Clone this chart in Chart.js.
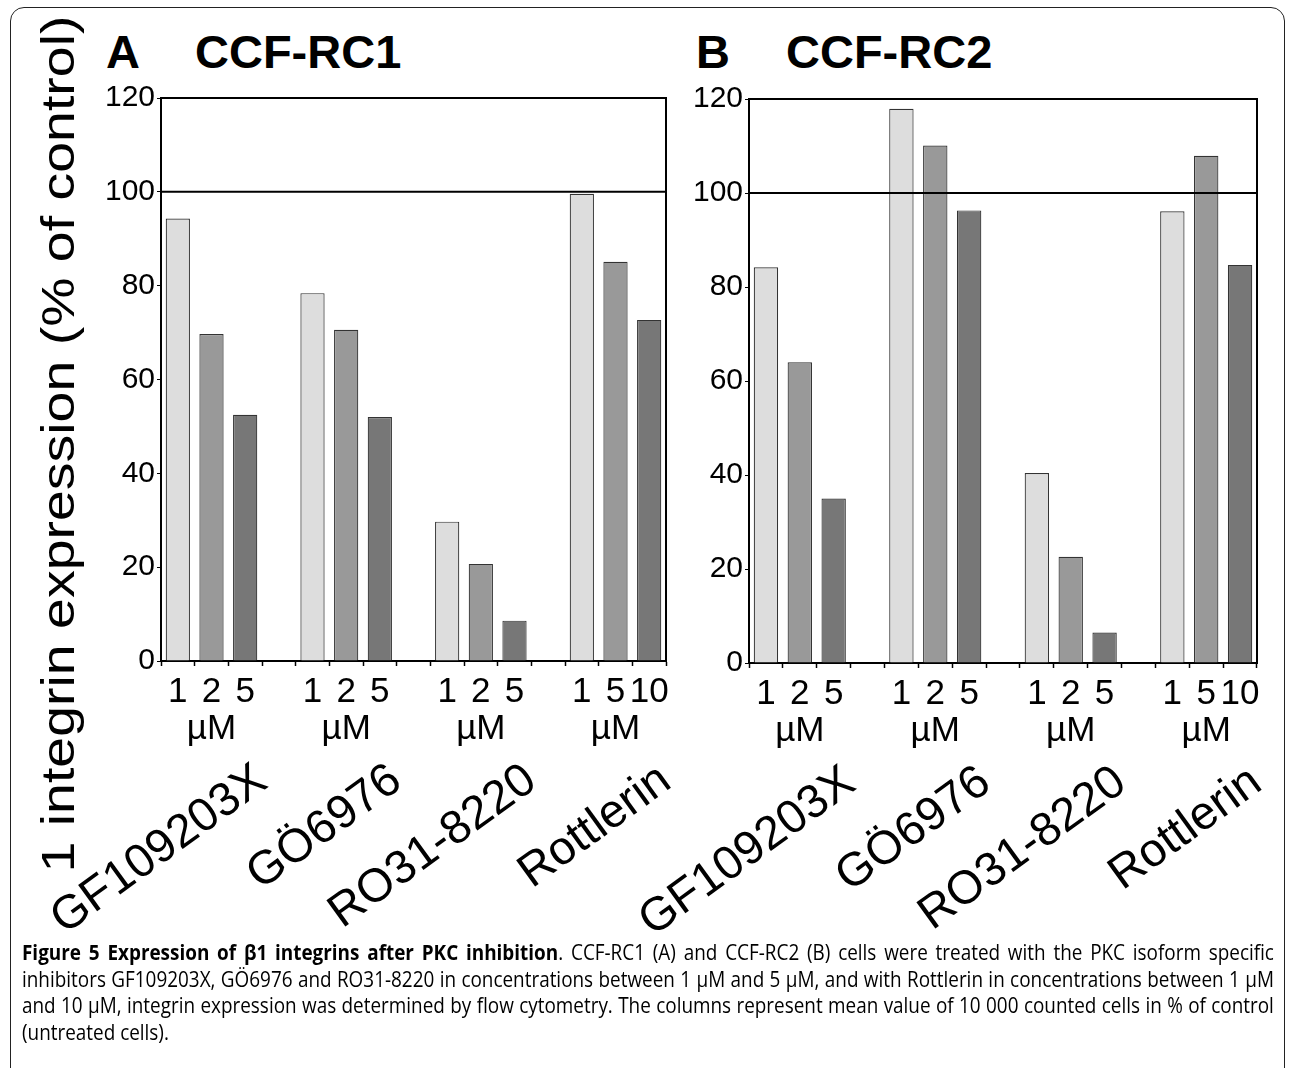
<!DOCTYPE html>
<html>
<head>
<meta charset="utf-8">
<script src="https://cdn.jsdelivr.net/npm/chart.js@4.4.1/dist/chart.umd.min.js"></script>
<style>
  body { margin: 0; background: #fff; width: 1290px; height: 1068px; overflow: hidden; position: relative;
         font-family: "Liberation Sans", Arial, sans-serif; color: #000; }
  .frame { position: absolute; left: 10px; top: 7px; width: 1273px; height: 1100px;
           border: 1.5px solid #222; border-radius: 14px; }
  .panel { position: absolute; top: 0; width: 690px; height: 940px; }
  #panelA { left: 0; }
  #panelB { left: 600px; }
  .head { position: absolute; top: 28px; font-weight: bold; font-size: 47px; line-height: 1; }
  .ytitle { position: absolute; left: -392px; top: 420px; width: 900px; height: 48px;
            font-size: 47px; line-height: 48px; text-align: center; white-space: nowrap;
            transform: rotate(-90deg) scaleX(1.18); transform-origin: 50% 50%; }
  .caption { position: absolute; left: 22px; top: 939px; width: 1391px;
             transform: scaleX(0.9); transform-origin: 0 0;
             font-family: "Open Sans", sans-serif; font-size: 21px; line-height: 26.5px; }
  .caption div { text-align: justify; text-align-last: justify; white-space: nowrap; }
  .caption div.last { text-align-last: left; }
</style>
</head>
<body>
<div class="frame"></div>

<div class="head" style="left:106px">A</div>
<div class="head" style="left:195px">CCF-RC1</div>
<div class="head" style="left:696px">B</div>
<div class="head" style="left:786px">CCF-RC2</div>
<div class="ytitle">1 integrin expression (% of control)</div>

<div class="panel" id="panelA"><canvas id="chartA"></canvas></div>
<div class="panel" id="panelB"><canvas id="chartB"></canvas></div>

<div class="caption">
  <div><b>Figure 5 Expression of β1 integrins after PKC inhibition</b>. CCF-RC1 (A) and CCF-RC2 (B) cells were treated with the PKC isoform specific</div>
  <div>inhibitors GF109203X, GÖ6976 and RO31-8220 in concentrations between 1 µM and 5 µM, and with Rottlerin in concentrations between 1 µM</div>
  <div>and 10 µM, integrin expression was determined by flow cytometry. The columns represent mean value of 10 000 counted cells in % of control</div>
  <div class="last">(untreated cells).</div>
</div>

<script>
const FONT = '"Liberation Sans", Arial, sans-serif';
const UNIT = 'µM';
const CONTROL_LEVEL = 100;

const inhibitors = ['GF109203X', 'GÖ6976', 'RO31-8220', 'Rottlerin'];
const doses = [['1', '2', '5'], ['1', '2', '5'], ['1', '2', '5'], ['1', '5', '10']];

// CCF-RC1, % of control, lowest / middle / highest concentration per inhibitor
const rc1Low  = [94.3, 78.4, 29.7, 99.6];
const rc1Mid  = [69.7, 70.6, 20.7, 85.1];
const rc1High = [52.5, 52.0, 8.6, 72.7];

// CCF-RC2
const rc2Low  = [84.2, 117.9, 40.4, 96.1];
const rc2Mid  = [64.0, 110.1, 22.6, 107.9];
const rc2High = [35.0, 96.3, 6.5, 84.7];

const yTicks = { min: 0, max: 120, step: 20 };

// 3 bars per inhibitor + one empty slot between groups
function slotData(values, k) {
  const out = [];
  values.forEach((v, g) => {
    for (let j = 0; j < 3; j++) out.push(j === k ? v : null);
    if (g < values.length - 1) out.push(null);
  });
  return out;
}

function slotLabels(d) {
  const out = [];
  d.forEach((group, g) => {
    group.forEach((t, j) => out.push(j === 1 ? [t, UNIT] : t));
    if (g < d.length - 1) out.push('');
  });
  return out;
}

const panelDecor = {
  id: 'panelDecor',
  afterDatasetsDraw(chart) {
    const { ctx, chartArea: a, scales: { y } } = chart;
    const yRef = y.getPixelForValue(CONTROL_LEVEL);
    ctx.save();
    ctx.strokeStyle = '#000';
    ctx.lineWidth = 2;
    ctx.beginPath();
    ctx.moveTo(a.left, a.top);
    ctx.lineTo(a.right, a.top);
    ctx.lineTo(a.right, a.bottom);
    ctx.moveTo(a.left, yRef);
    ctx.lineTo(a.right, yRef);
    ctx.stroke();
    ctx.restore();
  },
  afterDraw(chart) {
    const { ctx, chartArea: a, scales: { x } } = chart;
    ctx.save();
    ctx.font = '47px ' + FONT;
    ctx.fillStyle = '#000';
    ctx.textAlign = 'right';
    ctx.textBaseline = 'alphabetic';
    inhibitors.forEach((name, g) => {
      const cx = x.getPixelForValue(g * 4 + 1);
      ctx.save();
      ctx.translate(cx + 58, a.bottom + 125);
      ctx.rotate(-36 * Math.PI / 180);
      ctx.fillText(name, 0, 0);
      ctx.restore();
    });
    ctx.restore();
  }
};

function barSet(values, k, color) {
  return {
    data: slotData(values, k),
    backgroundColor: color,
    borderColor: '#333',
    borderWidth: 1.2,
    grouped: false,
    barPercentage: 0.72,
    categoryPercentage: 1
  };
}

function makePanel(id, low, mid, high, geo) {
  return new Chart(document.getElementById(id), {
    type: 'bar',
    data: {
      labels: slotLabels(doses),
      datasets: [
        barSet(low, 0, '#dddddd'),
        barSet(mid, 1, '#999999'),
        barSet(high, 2, '#777777')
      ]
    },
    options: {
      responsive: true,
      maintainAspectRatio: false,
      animation: false,
      layout: { padding: { top: geo.top, right: geo.right, left: 0, bottom: 0 } },
      plugins: { legend: { display: false }, tooltip: { enabled: false } },
      scales: {
        x: {
          grid: { drawOnChartArea: false, tickLength: 5, tickColor: '#000', tickWidth: 1.5, offset: true },
          border: { color: '#000', width: 2 },
          ticks: { color: '#000', font: { family: FONT, size: 35, lineHeight: 1.06 },
                   padding: 8, autoSkip: false, maxRotation: 0 },
          afterFit: s => { s.height = geo.xHeight; }
        },
        y: {
          min: yTicks.min,
          max: yTicks.max,
          grid: { drawOnChartArea: false, tickLength: 4, tickColor: '#000' },
          border: { color: '#000', width: 2 },
          ticks: { stepSize: yTicks.step, color: '#000', font: { family: FONT, size: 30 }, padding: 2 },
          afterFit: s => { s.width = geo.yWidth; }
        }
      }
    },
    plugins: [panelDecor]
  });
}

makePanel('chartA', rc1Low, rc1Mid, rc1High, { top: 98, right: 24, xHeight: 279, yWidth: 161 });
makePanel('chartB', rc2Low, rc2Mid, rc2High, { top: 99, right: 33, xHeight: 277, yWidth: 149 });
</script>
</body>
</html>
